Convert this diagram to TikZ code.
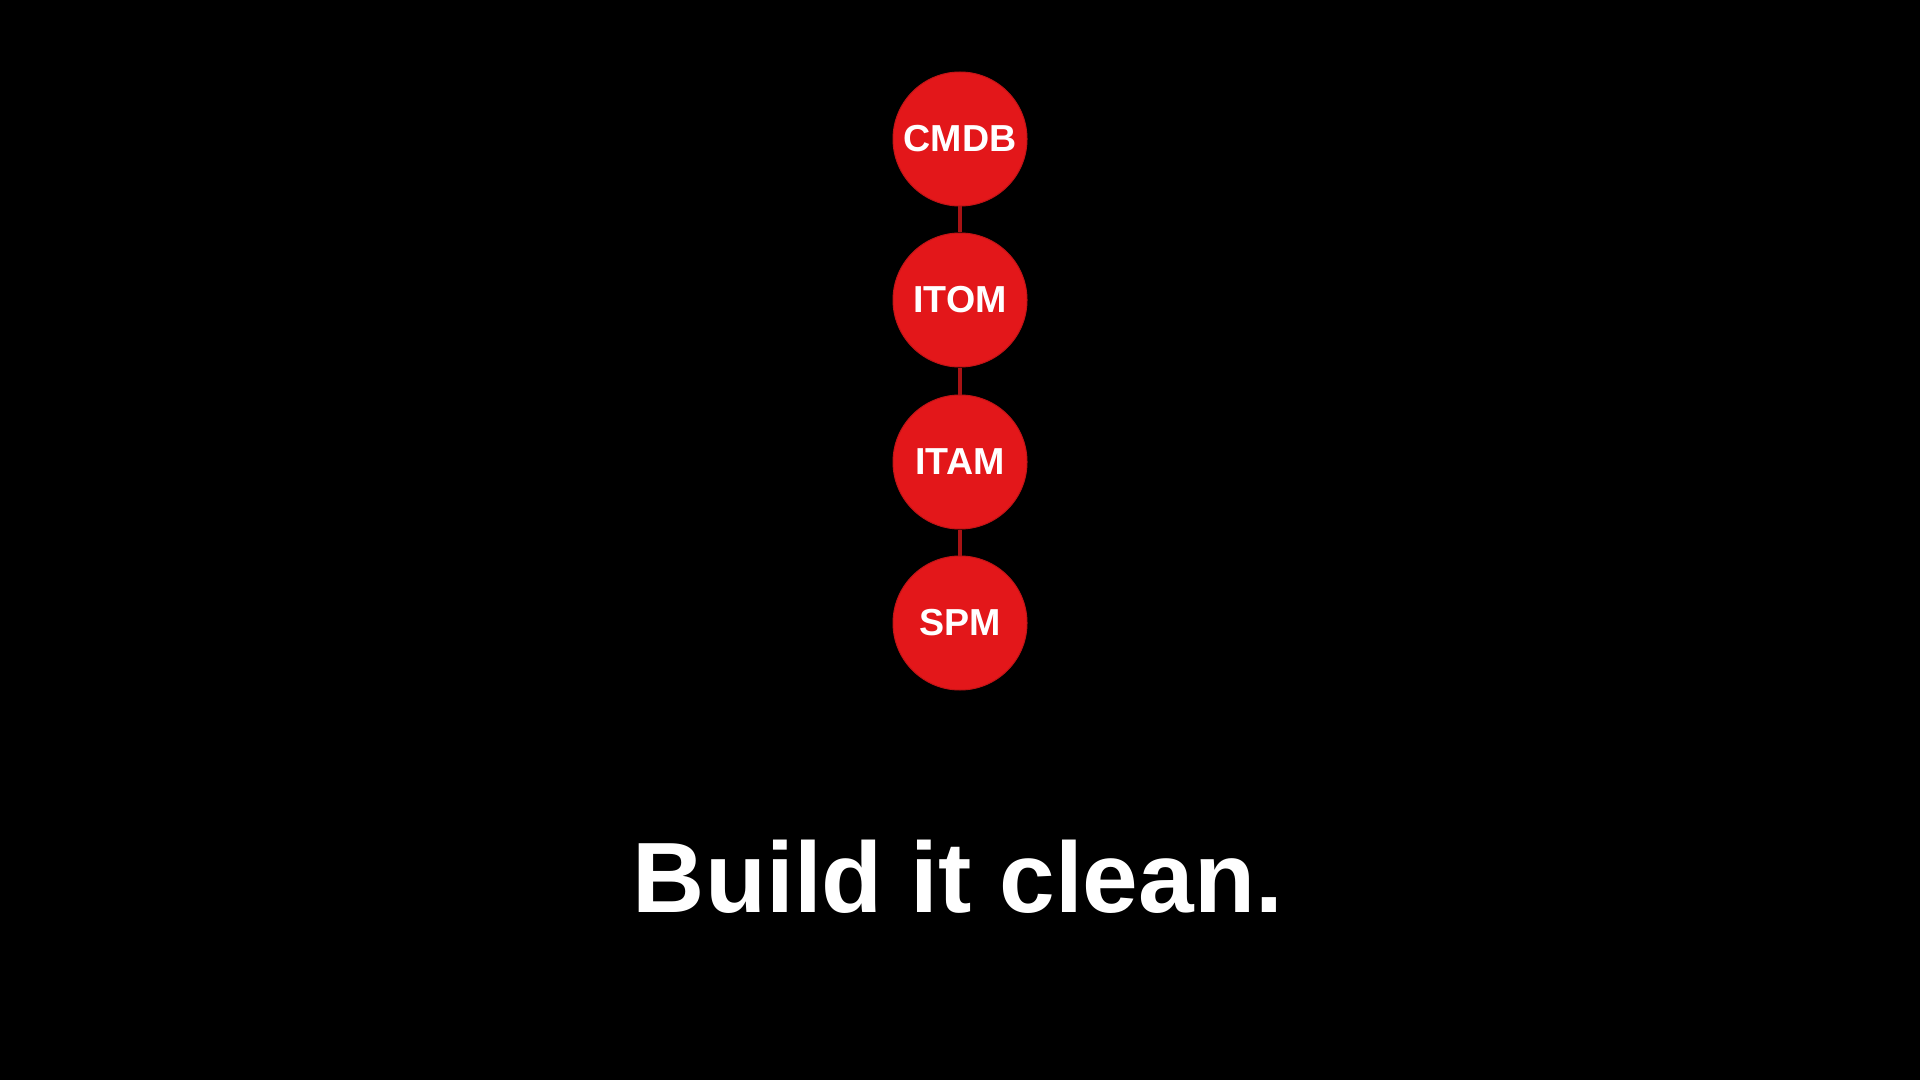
\documentclass[tikz,border=0pt]{standalone}
\usepackage{fontspec}
\setmainfont{Liberation Sans}
\definecolor{nodered}{HTML}{E3171A}
\definecolor{linkred}{HTML}{A81214}
\begin{document}
\begin{tikzpicture}[x=0.5pt,y=-0.5pt,
  stage/.style={circle,fill=nodered,draw=nodered!85!black,line width=0.5pt,minimum size=67pt,inner sep=0pt,
    text=white,font=\fontsize{18.8}{21}\selectfont\bfseries},
  link/.style={draw=linkred,line width=1.6pt},
  caption/.style={text=white,font=\fontsize{50}{56}\selectfont\bfseries,inner sep=0pt}]
\fill[black] (0,0) rectangle (1920,1080);
\useasboundingbox (0,0) rectangle (1920,1080);
\node[stage] (cmdb) at (960,139) {CMDB};
\node[stage] (itom) at (960,300) {ITOM};
\node[stage] (itam) at (960,462) {ITAM};
\node[stage] (spm)  at (960,623) {SPM};
\draw[link] (cmdb) -- (itom);
\draw[link] (itom) -- (itam);
\draw[link] (itam) -- (spm);
\node[caption,anchor=base] (cap) at (958,912) {Build it clean.};
\end{tikzpicture}
\end{document}
